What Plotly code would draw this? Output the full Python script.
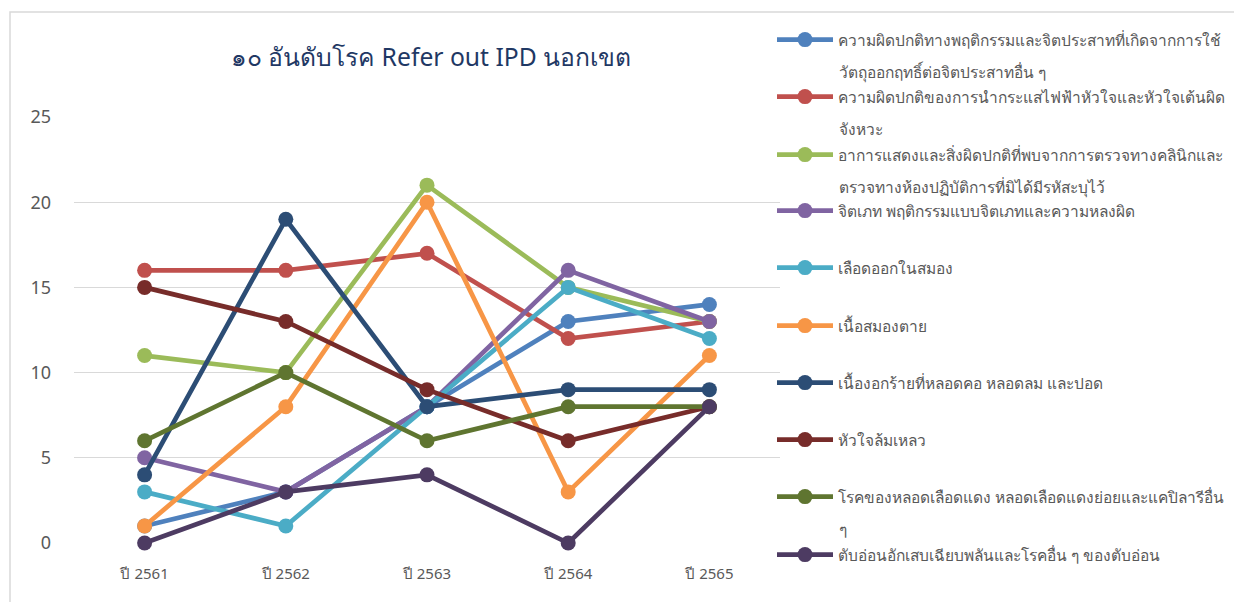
import plotly.graph_objects as go

years = ["ปี 2561", "ปี 2562", "ปี 2563", "ปี 2564", "ปี 2565"]

# legend labels: first visual line, and the wrapped continuation (if any)
names = [
    "ความผิดปกติทางพฤติกรรมและจิตประสาทที่เกิดจากการใช้",
    "ความผิดปกติของการนำกระแสไฟฟ้าหัวใจและหัวใจเต้นผิด",
    "อาการแสดงและสิ่งผิดปกติที่พบจากการตรวจทางคลินิกและ",
    "จิตเภท พฤติกรรมแบบจิตเภทและความหลงผิด",
    "เลือดออกในสมอง",
    "เนื้อสมองตาย",
    "เนื้องอกร้ายที่หลอดคอ หลอดลม และปอด",
    "หัวใจล้มเหลว",
    "โรคของหลอดเลือดแดง หลอดเลือดแดงย่อยและแคปิลารีอื่น",
    "ตับอ่อนอักเสบเฉียบพลันและโรคอื่น ๆ ของตับอ่อน",
]
name_cont = [
    "วัตถุออกฤทธิ์ต่อจิตประสาทอื่น ๆ",
    "จังหวะ",
    "ตรวจทางห้องปฏิบัติการที่มิได้มีรหัสะบุไว้",
    "", "", "", "", "",
    "ๆ",
    "",
]

s1 = [1, 3, 8, 13, 14]
s2 = [16, 16, 17, 12, 13]
s3 = [11, 10, 21, 15, 13]
s4 = [5, 3, 8, 16, 13]
s5 = [3, 1, 8, 15, 12]
s6 = [1, 8, 20, 3, 11]
s7 = [4, 19, 8, 9, 9]
s8 = [15, 13, 9, 6, 8]
s9 = [6, 10, 6, 8, 8]
s10 = [0, 3, 4, 0, 8]
series = [s1, s2, s3, s4, s5, s6, s7, s8, s9, s10]

colors = ["#4F81BD", "#C0504D", "#9BBB59", "#8064A2", "#4BACC6",
          "#F79646", "#2C4D75", "#772C2A", "#5F7530", "#4D3B62"]

W, H = 1234, 602
L, R, T, B = 74, 454, 117, 59
PW, PH = W - L - R, H - T - B

legend_font = dict(size=15.5, color="#595959")
leg_y_px = [40, 97, 155, 211, 268, 326, 383, 440, 497, 555]

fig = go.Figure()
for i, (nm, vals, c) in enumerate(zip(names, series, colors)):
    lg = "legend" if i == 0 else f"legend{i + 1}"
    fig.add_trace(go.Scatter(
        x=years, y=vals, name=nm, mode="lines+markers",
        line=dict(color=c, width=4.7),
        marker=dict(color=c, size=15),
        legend=lg, cliponaxis=False,
    ))

legends = {}
annotations = []
for i, ypx in enumerate(leg_y_px):
    key = "legend" if i == 0 else f"legend{i + 1}"
    legends[key] = dict(
        xref="container", yref="container",
        x=772 / W, xanchor="left", y=1 - ypx / H, yanchor="middle",
        font=legend_font, itemwidth=56, bgcolor="rgba(0,0,0,0)",
        borderwidth=0,
    )
    if name_cont[i]:
        annotations.append(dict(
            text=name_cont[i], xref="paper", yref="paper",
            x=(837 - L) / PW, xanchor="left",
            y=(H - B - (ypx + 32)) / PH, yanchor="middle",
            showarrow=False, font=legend_font,
        ))

fig.update_layout(
    width=W, height=H,
    paper_bgcolor="white", plot_bgcolor="white",
    margin=dict(l=L, r=R, t=T, b=B, autoexpand=False),
    font=dict(family="Noto Sans, sans-serif", color="#595959"),
    title=dict(text="๑๐ อันดับโรค Refer out IPD นอกเขต",
               xref="container", yref="container",
               x=(431 / W), xanchor="center", y=1 - 57 / H, yanchor="middle",
               font=dict(size=24.7, color="#1F3864")),
    xaxis=dict(range=[-0.5, 4.5], showgrid=False, showline=False, zeroline=False,
               tickfont=dict(size=15, color="#595959"), ticks="",
               ticklabelstandoff=20, automargin=False),
    yaxis=dict(range=[0, 25], dtick=5, showgrid=True, gridcolor="#D9D9D9",
               gridwidth=1.3, zeroline=False, showline=False,
               tickfont=dict(size=18, color="#595959"), ticks="",
               ticklabelstandoff=22, automargin=False),
    showlegend=True,
    annotations=annotations,
    shapes=[dict(type="rect", xref="paper", yref="paper",
                 x0=(10 - L) / PW, x1=2.0, y0=-0.5, y1=(H - B - 12) / PH,
                 line=dict(color="#D9D9D9", width=1.5), fillcolor="rgba(0,0,0,0)",
                 layer="below")],
    **legends,
)

fig.write_html("out.html",
               config={"displayModeBar": False},
               post_script="document.body.style.margin='0';document.body.style.overflow='hidden';")
